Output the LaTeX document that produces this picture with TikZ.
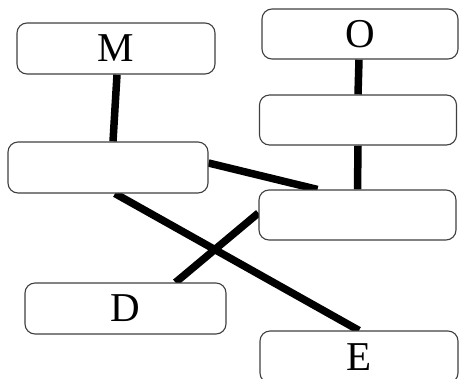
\documentclass[tikz,border=0pt]{standalone}
\usepackage{fontspec}
\setmainfont{Liberation Serif}
\usetikzlibrary{backgrounds}

\begin{document}
\begin{tikzpicture}[x=1pt, y=-1pt,
    box/.style={draw=black!75, line width=1.1pt, fill=white, rounded corners=10pt,
      minimum width=198pt, minimum height=51pt, inner sep=0pt,
      font=\fontsize{41}{44}\selectfont},
    link/.style={line width=7.5pt, black}]
    %tikz boxes
    \useasboundingbox (0,0) rectangle (460,378);
    \node[box] at (116, 48.5) (M){M};
    \node[box, minimum width=196pt, minimum height=50pt] at (360, 34) (O){O};
    \node[box, minimum width=197pt, minimum height=50pt] at (358, 120) (B){};
    \node[box, minimum width=200pt] at (108, 167.5) (L){};
    \node[box, minimum width=197pt, minimum height=50pt] at (357.5, 215) (R){};
    \node[box, minimum width=201pt] at (125.5, 308.5) (D){D};
    \node[box, minimum height=52pt] at (359, 357) (E){E};
    \begin{scope}[on background layer]
    \draw[link] ([xshift=1pt]M.south) -- ([xshift=5pt]L.north);
    \draw[link] ([xshift=-1pt]O.south) -- (B.north);
    \draw[link] (B.south) -- (R.north);
    \draw[link] ([yshift=4.5pt]L.east) -- ([xshift=-40pt]R.north);
    \draw[link] ([xshift=7pt]L.south) -- (E.north);
    \draw[link] ([xshift=50pt]D.north) -- ([yshift=2pt]R.west);
    \end{scope}
  \end{tikzpicture}
\end{document}
